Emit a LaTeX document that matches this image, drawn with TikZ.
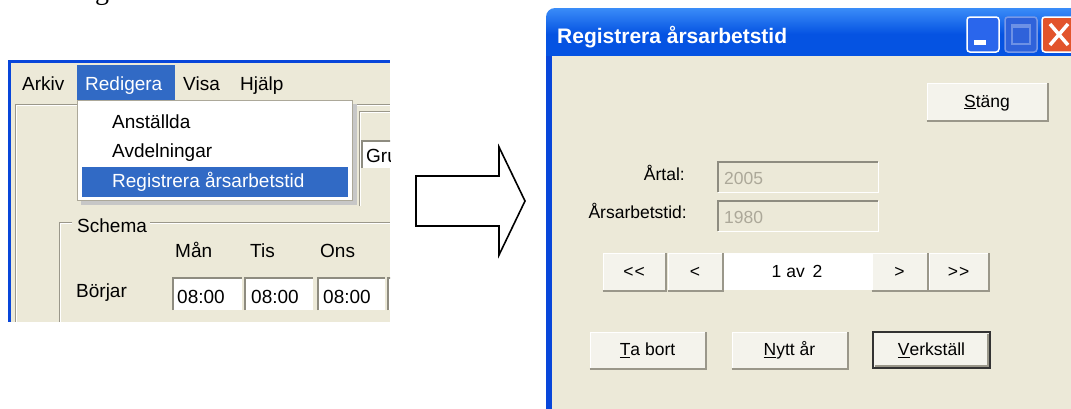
\documentclass[tikz,border=0pt]{standalone}
\usepackage{fontspec}
\setmainfont{Liberation Sans}
\newfontfamily\serifface{Liberation Serif}
\definecolor{xpbeige}{HTML}{ECE9D8}
\definecolor{xpblue}{HTML}{316AC5}
\definecolor{xptitle}{HTML}{0553E2}
\definecolor{xptitletop}{HTML}{3A8CF8}
\definecolor{xpedge}{HTML}{0846DA}
\definecolor{btnface}{HTML}{F4F3EC}
\definecolor{btnshadow}{HTML}{9A978A}
\definecolor{sunkgray}{HTML}{8E8C80}
\definecolor{distext}{HTML}{ACA899}
\definecolor{closered}{HTML}{E2542C}
\definecolor{minblue}{HTML}{2A66EC}
\definecolor{maxblue}{HTML}{2F62DA}
\newcommand{\leftfont}{\fontsize{19}{19}\selectfont}
\newcommand{\rightfont}{\fontsize{17.5}{17.5}\selectfont}
\newcommand{\btnshade}[1]{\draw[btnshadow,line width=2pt] (#1.south west) -- (#1.south east) -- (#1.north east);}
\newcommand{\sunkenedge}[1]{\draw[sunkgray,line width=2pt] (#1.south west) -- (#1.north west) -- (#1.north east);
  \draw[white,line width=1pt] (#1.south west) -- (#1.south east) -- (#1.north east);}
\begin{document}
\begin{tikzpicture}[x=1pt,y=-1pt,
  lt/.style={font=\leftfont, inner sep=0pt, anchor=base west},
  rt/.style={font=\rightfont, inner sep=0pt},
  btn/.style={rectangle, fill=btnface, draw=white, line width=1pt, inner sep=0pt,
    font=\rightfont, text height=13pt, text depth=2pt},
  tbox/.style={rectangle, fill=xpbeige, draw=none, inner sep=0pt},
  wbox/.style={rectangle, fill=white, draw=none, inner sep=0pt},
  etch/.style={btnshadow, line width=1pt},
  hi/.style={white, line width=1pt}]
\useasboundingbox (0,0) rectangle (1071,408);
\clip (0,0) rectangle (1071,408);
\fill[white] (0,0) rectangle (1071,408);

% cut-off text at top
\node[font=\serifface\fontsize{28}{28}\selectfont, anchor=base west, inner sep=0pt] (topg) at (95,-1) {g};

% ---------------- left screenshot ----------------
\begin{scope}
\clip (8,60) rectangle (390,322);
\fill[xpbeige] (8,60) rectangle (390,322);
\fill[xpedge] (8,60) rectangle (390,63);
\fill[xpedge] (8,60) rectangle (11,322);
% panel border
\draw[etch] (15,104) -- (390,104);
\draw[hi] (16,105.5) -- (390,105.5);
\draw[etch] (15,104) -- (15,322);
\draw[hi] (16.5,105) -- (16.5,322);
% inner frame right
\draw[etch] (359,206) -- (359,111) -- (390,111);
\draw[hi] (360.5,206) -- (360.5,112.5) -- (390,112.5);
% Gru box
\node[wbox, minimum width=40pt, minimum height=27pt] (grubox) at (382,154.5) {};
\draw[sunkgray,line width=1.5pt] (grubox.south west) -- (grubox.north west) -- (grubox.north east);
\node[lt] (gru) at (366,162) {Gru};
% menu bar
\fill[xpblue] (77,65) rectangle (175,100);
\node[lt] (arkiv) at (22,90) {Arkiv};
\node[lt, text=white] (redigera) at (85,90) {Redigera};
\node[lt] (visa) at (183,90) {Visa};
\node[lt] (hjalp) at (240,90) {Hjälp};
% schema group
\draw[etch] (72,222) -- (59,222) -- (59,322);
\draw[hi] (72,223.5) -- (60.5,223.5) -- (60.5,322);
\draw[etch] (150,222) -- (390,222);
\draw[hi] (150,223.5) -- (390,223.5);
\node[lt] (schema) at (77,232) {Schema};
\node[lt] (man) at (175,257) {Mån};
\node[lt] (tis) at (250,257) {Tis};
\node[lt] (ons) at (320,257) {Ons};
\node[lt] (borjar) at (76,297) {Börjar};
\node[wbox, minimum width=69pt, minimum height=32pt] (t1) at (207.5,294) {};
\node[wbox, minimum width=68pt, minimum height=32pt] (t2) at (279,294) {};
\node[wbox, minimum width=67pt, minimum height=32pt] (t3) at (351.5,294) {};
\node[wbox, minimum width=67pt, minimum height=32pt] (t4) at (422,294) {};
\foreach \b in {t1,t2,t3,t4}{
  \draw[sunkgray,line width=2pt] (\b.south west) -- (\b.north west) -- (\b.north east);
}
\node[lt] (v1) at (177,303) {08:00};
\node[lt] (v2) at (251,303) {08:00};
\node[lt] (v3) at (323,303) {08:00};
% dropdown menu
\fill[black!22] (81,104) rectangle (357,205);
\filldraw[fill=white, draw=distext, line width=1pt] (77,100) rectangle (352,200);
\fill[xpblue] (82,167) rectangle (348,197);
\node[lt] (anst) at (112,128) {Anställda};
\node[lt] (avd) at (112,157) {Avdelningar};
\node[lt, text=white] (reg) at (112,187) {Registrera årsarbetstid};
\end{scope}

% ---------------- arrow ----------------
\draw[line width=1.6pt, line join=miter] (416,176) -- (499,176) -- (499,147) -- (525,201)
  -- (499,255) -- (499,226) -- (416,226) -- cycle;

% ---------------- right window ----------------
\shade[top color=xptitletop, bottom color=xptitle, middle color=xptitle]
  (546,60) [rounded corners=9pt]-- (546,8) [sharp corners]-- (1080,8) -- (1080,60) -- cycle;
\fill[xpbeige] (552,56) rectangle (1080,410);
\fill[xpedge] (546,56) rectangle (552,410);
\node[font=\bfseries\fontsize{21}{21}\selectfont, text=white, inner sep=0pt, anchor=base west]
  (title) at (557,43) {Registrera årsarbetstid};
% title buttons
\filldraw[fill=minblue, draw=white, line width=1.5pt, rounded corners=3pt] (967,17) rectangle (999,52);
\fill[white] (974,40) rectangle (986,45);
\filldraw[fill=maxblue, draw=white!35!maxblue, line width=1.5pt, rounded corners=3pt] (1005,17) rectangle (1037,52);
\draw[white!30!maxblue, line width=1.3pt] (1012,25) rectangle (1030,44);
\draw[white!30!maxblue, line width=3pt] (1012,26) -- (1030,26);
\filldraw[fill=closered, draw=white, line width=1.5pt, rounded corners=3pt] (1042,17) rectangle (1080,52);
\draw[white, line width=3.5pt] (1050,24) -- (1068,45);
\draw[white, line width=3.5pt] (1068,24) -- (1050,45);

% Stäng
\node[btn, minimum width=120pt, minimum height=37pt] (stang) at (987,101.5) {\underline{S}täng};
\btnshade{stang}

% fields
\node[rt, anchor=base east] (artal) at (685,180) {Årtal:};
\node[rt, anchor=base east] (arsarb) at (687,218) {Årsarbetstid:};
\node[tbox, minimum width=160pt, minimum height=30pt] (box1) at (798,177) {};
\node[tbox, minimum width=160pt, minimum height=30pt] (box2) at (798,216) {};
\sunkenedge{box1}
\sunkenedge{box2}
\node[rt, anchor=base west, text=distext] (y2005) at (724,184) {2005};
\node[rt, anchor=base west, text=distext] (y1980) at (724,223) {1980};

% navigation
\node[btn, minimum width=62pt, minimum height=37pt] (first) at (634,271.5) {<\kern1pt<};
\node[btn, minimum width=54pt, minimum height=37pt] (prev) at (695,271.5) {<};
\node[rectangle, fill=white, inner sep=0pt, minimum width=150pt, minimum height=37pt,
  font=\rightfont, text height=13pt, text depth=2pt] (page) at (797,271.5) {1 av\, 2};
\node[btn, minimum width=55pt, minimum height=37pt] (next) at (899.5,271.5) {>};
\node[btn, minimum width=59pt, minimum height=37pt] (last) at (958.5,271.5) {>\kern1pt>};
\btnshade{first}
\btnshade{prev}
\btnshade{next}
\btnshade{last}

% bottom buttons
\node[btn, minimum width=115pt, minimum height=36pt] (tabort) at (647.5,350) {\underline{T}a bort};
\node[btn, minimum width=115pt, minimum height=36pt] (nytt) at (789.5,350) {\underline{N}ytt år};
\node[btn, draw=black!80, line width=2pt, minimum width=117pt, minimum height=36pt] (verk) at (931.5,350) {\underline{V}erkställ};
\btnshade{tabort}
\btnshade{nytt}
\draw[btnshadow,line width=1.5pt] ([shift={(2.5,-3)}]verk.south west) -- ([shift={(-3,-3)}]verk.south east) -- ([shift={(-3,2.5)}]verk.north east);
\end{tikzpicture}
\end{document}
